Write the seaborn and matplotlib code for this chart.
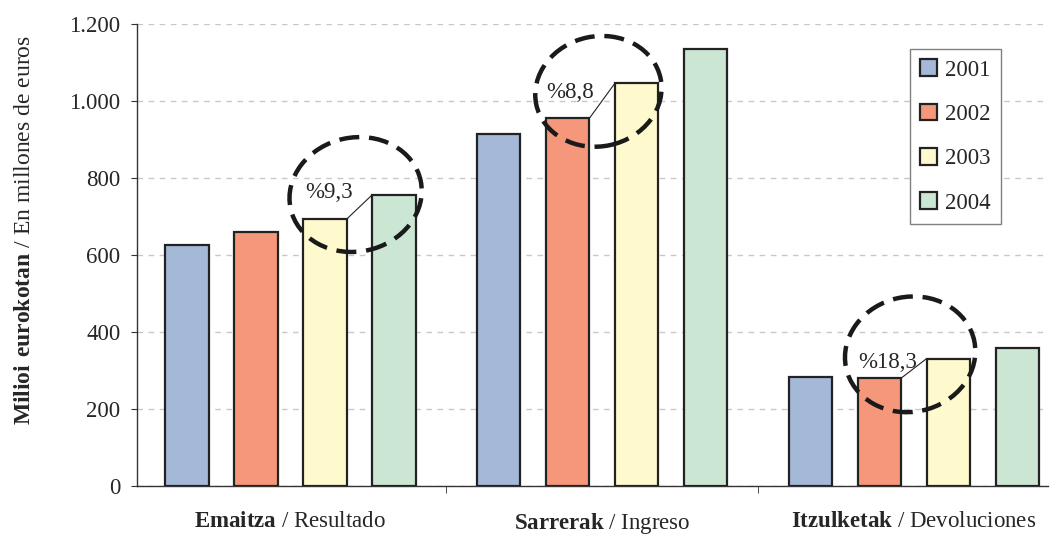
import pandas as pd
import seaborn as sns
import matplotlib
matplotlib.use("Agg")
import matplotlib.pyplot as plt
from matplotlib.patches import Ellipse
from matplotlib.transforms import IdentityTransform

# data
years = ["2001", "2002", "2003", "2004"]
group_bold = ["Emaitza", "Sarrerak", "Itzulketak"]
group_plain = ["Resultado", "Ingreso", "Devoluciones"]
emaitza = [626, 659, 693, 756]
sarrerak = [914, 955, 1046, 1135]
itzulketak = [283, 280, 331, 359]
growth_labels = ["%9,3", "%8,8", "%18,3"]
growth_pairs = [(2, 3), (1, 2), (1, 2)]
yticks = [0, 200, 400, 600, 800, 1000, 1200]
ytick_labels = ["0", "200", "400", "600", "800", "1.000", "1.200"]

colors = ["#A5B8D7", "#F4977A", "#FFFACD", "#CCE6D4"]


def main():
    sns.set_style("white")
    plt.rcParams["font.family"] = ["Liberation Serif", "DejaVu Serif"]
    plt.rcParams["mathtext.fontset"] = "custom"
    plt.rcParams["mathtext.rm"] = "Liberation Serif"
    plt.rcParams["mathtext.bf"] = "Liberation Serif:bold"

    rows = []
    for g, vals in zip(group_bold, [emaitza, sarrerak, itzulketak]):
        for y, v in zip(years, vals):
            rows.append({"group": g, "year": y, "value": v})
    df = pd.DataFrame(rows)

    fig = plt.figure(figsize=(10.53, 5.34), dpi=100)
    ax = fig.add_axes([0.1301, 0.0899, 0.8651, 0.8652])

    sns.barplot(data=df, x="group", y="value", hue="year", palette=colors,
                saturation=1, width=0.885, gap=0.37, errorbar=None,
                edgecolor="#222222", linewidth=1.6, ax=ax, zorder=3)

    ax.set_xlim(-0.492, 2.43)
    ax.set_ylim(0, 1200)
    ax.set_axisbelow(True)
    ax.yaxis.grid(True, linestyle=(0, (4, 4)), color="#c8c8c8", lw=1)
    ax.xaxis.grid(False)

    for s in ["top", "right"]:
        ax.spines[s].set_visible(False)
    for s in ["left", "bottom"]:
        ax.spines[s].set_color("#333333")
        ax.spines[s].set_linewidth(1)

    ax.set_yticks(yticks, ytick_labels)
    ax.tick_params(axis="y", length=4, pad=8, direction="out", color="#333333",
                   labelsize=16.5, left=True)
    ax.set_xticks(range(3), [rf"$\mathbf{{{b}}}$ / {p}" for b, p in zip(group_bold, group_plain)])
    ax.tick_params(axis="x", which="major", length=0, pad=18, labelsize=16.5)
    ax.set_xticks([0.5, 1.5], minor=True)
    ax.tick_params(axis="x", which="minor", length=5, direction="out",
                   color="#333333", bottom=True)
    ax.set_xlabel("")
    ax.set_ylabel(r"$\mathbf{Milioi\ eurokotan}$ / En millones de euros", fontsize=17)
    ax.yaxis.set_label_coords(-0.112, 0.555)

    handles, labels = ax.get_legend_handles_labels()
    leg = ax.legend(handles, labels, loc="upper left", bbox_to_anchor=(0.8485, 0.946),
                    borderaxespad=0, frameon=True, fancybox=False, framealpha=1,
                    edgecolor="#808080", handlelength=0.75, handleheight=0.75,
                    handletextpad=0.35, labelspacing=1.0, borderpad=0.45, fontsize=16.5)
    leg.get_frame().set_linewidth(1.0)

    # growth annotations: label, connector line and dashed ring
    text_dx = [0.015, 0.008, 0.025]
    text_dy = [69, 66, 40]
    ring_dy = [1, -21, 11]
    ring_w = [133, 127, 131]
    ring_h = [114, 110, 115]
    for g, (lo, hi) in enumerate(growth_pairs):
        b_lo = ax.containers[lo][g]
        b_hi = ax.containers[hi][g]
        x0 = b_lo.get_x() + b_lo.get_width()
        ax.plot([x0, b_hi.get_x()], [b_lo.get_height(), b_hi.get_height()],
                color="#222222", lw=0.8, zorder=4)
        xc_lo = b_lo.get_x() + b_lo.get_width() / 2
        xc_hi = b_hi.get_x() + b_hi.get_width() / 2
        ax.text(xc_lo + text_dx[g], b_lo.get_height() + text_dy[g], growth_labels[g],
                ha="center", va="center", fontsize=16.5, zorder=5)
        cx, cy = ax.transData.transform(((xc_lo + xc_hi) / 2 - 0.012,
                                         max(b_lo.get_height(), b_hi.get_height()) + ring_dy[g]))
        ring = Ellipse((cx, cy), ring_w[g], ring_h[g], angle=12, fill=False,
                       lw=3.2, linestyle=(0, (4.5, 2.2)), edgecolor="#1a1a1a",
                       transform=IdentityTransform(), zorder=6)
        ax.add_artist(ring)

    fig.savefig("out.png", dpi=100)


if __name__ == "__main__":
    main()
